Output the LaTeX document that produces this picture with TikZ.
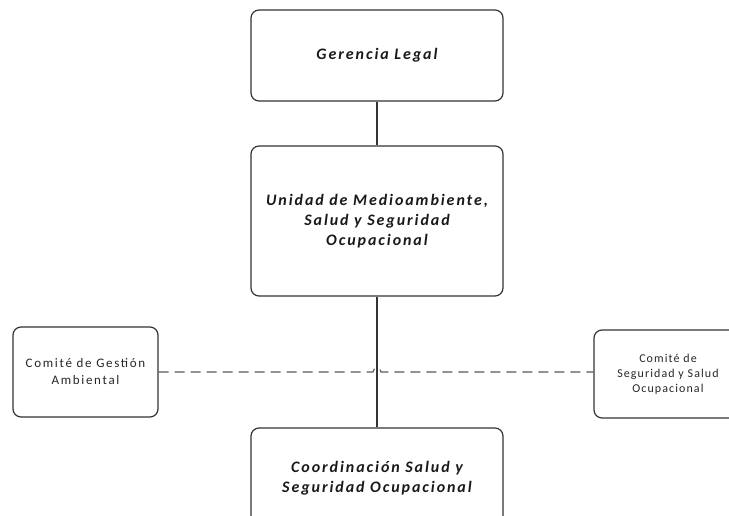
\documentclass[tikz,border=0pt]{standalone}
\usepackage{fontspec}
\setmainfont{Carlito}
\newfontfamily\unitfont[LetterSpace=12]{Carlito}
\newfontfamily\comfont[LetterSpace=13]{Carlito}
\newfontfamily\comsfont[LetterSpace=9]{Carlito}
\usetikzlibrary{positioning}

\begin{document}
\begin{tikzpicture}[x=1pt,y=-1pt]
\tikzstyle{every node}+=[inner sep=0pt]
\tikzstyle{unit}=[draw=black!80, line width=1.2pt, rounded corners=8pt, align=center, text=black!90, minimum width=252pt, font=\unitfont\bfseries\itshape\fontsize{16}{20}\selectfont]
\tikzstyle{comite}=[draw=black!80, line width=1.2pt, rounded corners=8pt, align=center, text=black!85]
\tikzstyle{enlace}=[draw=black!80, line width=1.1pt]
\clip (0,0) rectangle (729,516);
% cajas principales
\node [unit, minimum height=91pt] (gerencia) at (377,55.5) {Gerencia Legal};
\node [unit, minimum height=150pt] (unidad) at (377,221) {Unidad de Medioambiente,\\Salud y Seguridad\\Ocupacional};
\node [unit, minimum height=100pt] (coord) at (377,478) {Coordinación Salud y\\Seguridad Ocupacional};
% comites
\node [comite, minimum width=145pt, minimum height=90pt, font=\comfont\fontsize{13}{17}\selectfont] (ambiental) at (85.5,372) {Comité de Gestión\\Ambiental};
\node [comite, minimum width=148pt, minimum height=88pt, font=\comsfont\fontsize{12}{15}\selectfont] (seguridad) at (668,374) {Comité de\\Seguridad y Salud\\Ocupacional};
% lineas
\draw [enlace] (gerencia) -- (unidad);
\draw [enlace] (unidad) -- (coord);
\coordinate (cruce) at (unidad.south |- ambiental.east);
\draw [enlace, draw=black!65, dash pattern=on 10pt off 6pt] (ambiental.east) -- ([xshift=-4pt]cruce) arc (180:360:4) -- (seguridad.west |- cruce);
\end{tikzpicture}
\end{document}
